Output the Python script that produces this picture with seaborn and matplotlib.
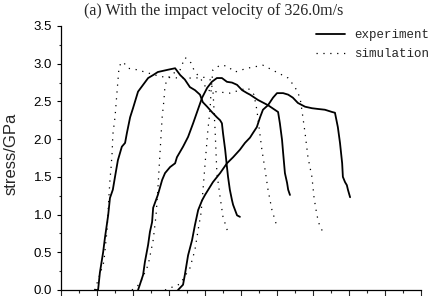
import numpy as np
import pandas as pd
import seaborn as sns
import matplotlib
matplotlib.use("Agg")
import matplotlib.pyplot as plt
from matplotlib.ticker import MultipleLocator, NullFormatter

# ---------------- data (time in arbitrary units, stress in GPa) ----------------
exp1_x = [0.94, 1.03, 1.08, 1.17, 1.22, 1.31, 1.36, 1.44, 1.50, 1.58, 1.69, 1.78, 1.83, 1.92, 2.00,
          2.14, 2.28, 2.42, 2.56, 2.69, 2.97, 3.17, 3.31, 3.44, 3.58, 3.72, 3.86, 3.94, 4.06, 4.19,
          4.33, 4.42, 4.47, 4.50, 4.56, 4.61, 4.64, 4.69, 4.75, 4.78, 4.89, 4.97]
exp1_y = [0.00, 0.00, 0.23, 0.50, 0.69, 0.99, 1.22, 1.33, 1.50, 1.72, 1.90, 1.95, 2.08, 2.29, 2.41,
          2.63, 2.72, 2.81, 2.85, 2.89, 2.92, 2.94, 2.85, 2.79, 2.69, 2.65, 2.59, 2.49, 2.43, 2.36,
          2.29, 2.25, 2.21, 2.08, 1.86, 1.63, 1.50, 1.33, 1.19, 1.13, 0.99, 0.97]

exp2_x = [2.14, 2.19, 2.28, 2.33, 2.42, 2.47, 2.53, 2.56, 2.69, 2.81, 2.89, 3.03, 3.17, 3.22, 3.39,
          3.53, 3.67, 3.78, 3.92, 4.06, 4.19, 4.33, 4.47, 4.61, 4.75, 4.89, 5.03, 5.17, 5.25, 5.47,
          5.75, 6.03, 6.08, 6.14, 6.17, 6.22, 6.28, 6.31, 6.36]
exp2_y = [0.00, 0.07, 0.20, 0.37, 0.60, 0.77, 0.90, 1.09, 1.26, 1.46, 1.55, 1.63, 1.68, 1.76, 1.90,
          2.03, 2.21, 2.36, 2.55, 2.68, 2.76, 2.81, 2.81, 2.76, 2.75, 2.72, 2.65, 2.61, 2.59, 2.52,
          2.45, 2.36, 2.21, 1.99, 1.82, 1.55, 1.42, 1.33, 1.26]

exp3_x = [3.25, 3.39, 3.44, 3.53, 3.64, 3.72, 3.81, 3.92, 4.00, 4.22, 4.42, 4.61, 4.78, 4.97, 5.11,
          5.25, 5.33, 5.44, 5.53, 5.61, 5.75, 5.89, 6.00, 6.17, 6.31, 6.44, 6.58, 6.78, 6.97, 7.14,
          7.33, 7.53, 7.61, 7.69, 7.75, 7.81, 7.83, 7.89, 7.94, 7.97, 8.03]
exp3_y = [0.00, 0.07, 0.20, 0.46, 0.66, 0.86, 1.06, 1.19, 1.26, 1.43, 1.55, 1.68, 1.76, 1.86, 1.95,
          2.02, 2.08, 2.16, 2.29, 2.39, 2.45, 2.55, 2.61, 2.61, 2.59, 2.55, 2.48, 2.43, 2.41, 2.40,
          2.39, 2.36, 2.35, 2.16, 1.95, 1.68, 1.50, 1.43, 1.39, 1.33, 1.23]

sim1_x = [0.94, 1.19, 1.28, 1.33, 1.36, 1.39, 1.42, 1.44, 1.50, 1.56, 1.61, 1.67, 1.75, 1.86, 2.11,
          2.33, 2.61, 2.89, 3.31, 3.72, 4.00, 4.14, 4.22, 4.25, 4.28, 4.33, 4.42, 4.50, 4.64]
sim1_y = [0.00, 0.37, 0.80, 1.23, 1.46, 1.62, 1.82, 2.06, 2.29, 2.65, 2.94, 3.02, 3.01, 2.94, 2.92,
          2.89, 2.85, 2.82, 2.81, 2.81, 2.82, 2.79, 2.65, 2.39, 2.12, 1.55, 1.23, 0.97, 0.76]

sim2_x = [1.97, 2.19, 2.42, 2.56, 2.64, 2.69, 2.75, 2.81, 2.86, 2.89, 3.03, 3.19, 3.31, 3.44, 3.53,
          3.61, 3.69, 3.81, 3.94, 4.06, 4.28, 4.69, 5.19, 5.36, 5.44, 5.58, 5.67, 5.75, 5.86, 6.00]
sim2_y = [0.00, 0.08, 0.33, 0.66, 0.99, 1.33, 1.82, 2.29, 2.52, 2.72, 2.85, 2.89, 2.92, 3.08, 3.06,
          3.01, 2.92, 2.84, 2.76, 2.65, 2.63, 2.61, 2.68, 2.59, 2.39, 1.86, 1.59, 1.33, 1.06, 0.84]

sim3_x = [2.89, 3.31, 3.58, 3.72, 3.81, 3.89, 3.94, 4.00, 4.08, 4.14, 4.17, 4.22, 4.42, 4.61, 4.83,
          5.17, 5.61, 6.31, 6.50, 6.64, 6.69, 6.78, 6.86, 6.97, 7.03, 7.11, 7.19, 7.28]
sim3_y = [0.00, 0.08, 0.29, 0.53, 0.80, 1.02, 1.30, 1.66, 2.12, 2.39, 2.65, 2.92, 2.98, 2.97, 2.89,
          2.94, 2.98, 2.81, 2.69, 2.55, 2.39, 2.08, 1.76, 1.50, 1.22, 0.99, 0.84, 0.77]

y_ticks = [0.0, 0.5, 1.0, 1.5, 2.0, 2.5, 3.0, 3.5]
y_ticklabels = ["0.0", "0.5", "1.0", "1.5", "2.0", "2.5", "3.0", "3.5"]
title_text = "(a) With the impact velocity of 326.0m/s"
ylabel_text = "stress/GPa"
legend_labels = ["experiment", "simulation"]

# ---------------- figure ----------------
sns.set_style("ticks")
plt.rcParams["font.family"] = ["Liberation Sans", "DejaVu Sans"]

W, H = 431, 296
fig = plt.figure(figsize=(W / 100, H / 100), dpi=100)
ax = fig.add_axes([61 / W, 6 / H, (421 - 61) / W, (290 - 26) / H])

exp_sets = [(exp1_x, exp1_y), (exp2_x, exp2_y), (exp3_x, exp3_y)]
sim_sets = [(sim1_x, sim1_y), (sim2_x, sim2_y), (sim3_x, sim3_y)]

for i, (xs, ys) in enumerate(exp_sets):
    df = pd.DataFrame({"t": xs, "s": ys})
    sns.lineplot(data=df, x="t", y="s", ax=ax, sort=False, estimator=None,
                 color="black", linewidth=1.3,
                 label=legend_labels[0] if i == 0 else None)
for i, (xs, ys) in enumerate(sim_sets):
    df = pd.DataFrame({"t": xs, "s": ys})
    sns.lineplot(data=df, x="t", y="s", ax=ax, sort=False, estimator=None,
                 color="black", linewidth=0.9, linestyle=(0, (1, 4.5)),
                 label=legend_labels[1] if i == 0 else None)

ax.set_xlim(0, 10)
ax.set_ylim(0, 3.5)
ax.xaxis.set_major_locator(MultipleLocator(1))
ax.xaxis.set_minor_locator(MultipleLocator(0.5))
ax.xaxis.set_major_formatter(NullFormatter())
ax.set_yticks(y_ticks)
ax.set_yticklabels(y_ticklabels)
ax.yaxis.set_minor_locator(MultipleLocator(0.25))
ax.tick_params(axis="y", which="major", length=3, width=0.8, direction="out",
               labelsize=9.5, pad=3.5, colors="black")
ax.tick_params(axis="y", which="minor", length=1.8, width=0.8, direction="out")
ax.tick_params(axis="x", which="major", length=4, width=0.8, direction="out")
ax.tick_params(axis="x", which="minor", length=2.2, width=0.8, direction="out")
for side in ["top", "right"]:
    ax.spines[side].set_visible(False)
for side in ["left", "bottom"]:
    ax.spines[side].set_linewidth(0.9)
    ax.spines[side].set_color("black")

ax.set_xlabel("")
ax.set_ylabel(ylabel_text, fontsize=12)
ax.yaxis.set_label_coords(-0.118, 0.515)

fig.text(214 / W, 1 - 11 / H, title_text, ha="center", va="center",
         family="Liberation Serif", fontsize=11.5)

leg = ax.legend(loc="upper right", bbox_to_anchor=(429 / W, 1 - 29 / H),
                bbox_transform=fig.transFigure, frameon=False,
                prop={"family": "Liberation Mono", "size": 9},
                handlelength=2.3, handletextpad=0.7, labelspacing=0.55,
                borderpad=0.0, borderaxespad=0.0)

fig.savefig("out.png", dpi=100)
